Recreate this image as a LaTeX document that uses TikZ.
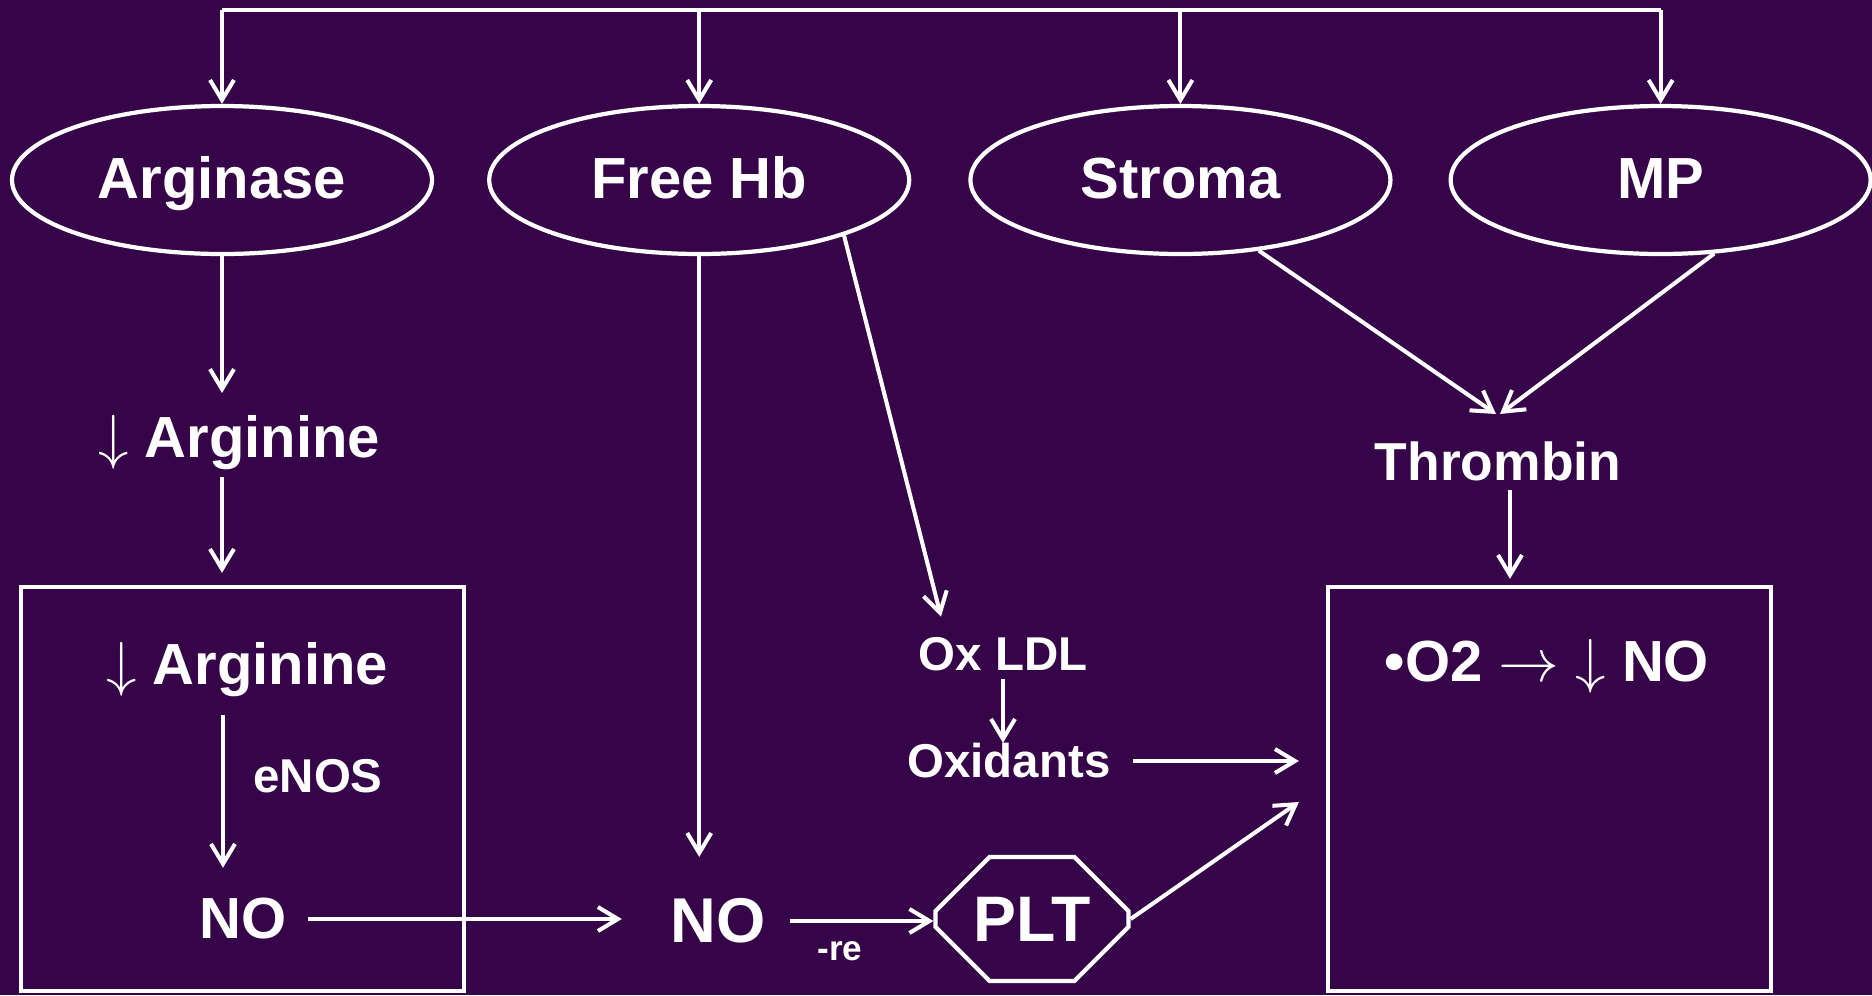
\documentclass[tikz,border=0pt]{standalone}
\usepackage{fontspec}
\setmainfont{Liberation Sans}
\usepackage{tikz}
\usetikzlibrary{arrows.meta, positioning, calc, shapes.geometric, shapes.misc}
\definecolor{bgpurple}{RGB}{54,4,72}

\begin{document}
\begin{tikzpicture}[
    ell/.style={ellipse, draw=white, line width=1.2pt, minimum width=4.2cm, minimum height=1.48cm, inner sep=0pt, text height=0.36cm, text depth=0pt, text=white, font=\bfseries\fontsize{16.5}{20}\selectfont},
    bx/.style={rectangle, draw=white, line width=1.2pt, minimum width=4.43cm, minimum height=4.04cm},
    txt/.style={inner sep=0pt, text=white, font=\bfseries\fontsize{16.5}{20}\selectfont},
    sm/.style={inner sep=0pt, text=white, font=\bfseries\fontsize{13.5}{16}\selectfont},
    oct/.style={chamfered rectangle, chamfered rectangle xsep=0.26cm, chamfered rectangle ysep=0.32cm, draw=white, line width=1.2pt, minimum width=1.93cm, minimum height=1.24cm, inner sep=0pt, text=white, font=\bfseries\fontsize{18.3}{22}\selectfont},
    e/.style={-{Straight Barb[length=2mm, width=2.4mm]}, white, line width=1.15pt},
    ln/.style={white, line width=1.15pt},
    lab/.style={inner sep=0pt, text=white, font=\bfseries\fontsize{10}{12}\selectfont},
]
    \fill[bgpurple] (0,0) rectangle (18.72,-9.95);
    \useasboundingbox (0,0) rectangle (18.72,-9.95);
    \node[ell] (arg) at (2.22,-1.80) {Arginase};
    \node[ell, right=0.53cm of arg] (hb) {Free Hb};
    \node[ell, right=0.57cm of hb] (str) {Stroma};
    \node[ell, right=0.56cm of str] (mp) {MP};
    \node[txt] (argn) at (2.39,-4.43) {$\downarrow$ Arginine};
    \node[bx] (lbox) at (2.425,-7.89) {};
    \node[txt] (argn2) at (2.47,-6.70) {$\downarrow$ Arginine};
    \node[sm] (enos) at (3.18,-7.76) {eNOS};
    \node[txt] (no1) at (2.43,-9.19) {NO};
    \node[txt, font=\bfseries\fontsize{18}{22}\selectfont] (no2) at (7.18,-9.21) {NO};
    \node[sm] (ox) at (10.03,-6.54) {Ox LDL};
    \node[sm] (oxid) at (10.09,-7.61) {Oxidants};
    \node[oct] (plt) at (10.32,-9.19) {PLT};
    \node[lab] (re) at (8.40,-9.51) {-re};
    \node[txt, font=\bfseries\fontsize{15.2}{18}\selectfont] (thr) at (14.98,-4.61) {Thrombin};
    \node[bx] (rbox) at (15.495,-7.89) {};
    \node[txt] (o2) at (15.47,-6.66) {\textbullet O2 $\rightarrow$ $\downarrow$ NO};
    \coordinate (bus) at (0,-0.10);
    \draw[ln] (bus -| arg) -- (bus -| mp);
    \foreach \n in {arg, hb, str, mp}
        \draw[e] (bus -| \n) -- (\n.north);
    \draw[e, shorten >=2.2mm] (arg.south) -- (arg.south |- argn.north);
    \draw[e, shorten <=0.6mm, shorten >=1.2mm] (argn.south -| arg) -- (lbox.north -| arg);
    \draw[e, shorten <=1.7mm, shorten >=3mm] ([xshift=-2.4mm]argn2.south) -- ([xshift=-2.4mm]argn2.south |- no1.north);
    \draw[e, shorten <=2.1mm, shorten >=4.8mm] (no1.east) -- (no1.east -| no2.west);
    \draw[e, shorten <=2.4mm] (no2.east) -- (no2.east -| plt.west);
    \draw[e, shorten >=4.1mm] (hb.south) -- (hb.south |- no2.north);
    \draw[e] (hb.-21) -- ($(ox.north)+(-0.62,0.20)$);
    \draw[e, shorten <=0.7mm] (ox.south) -- (ox.south |- oxid.north);
    \draw[e, shorten <=2.2mm, shorten >=2.7mm] (oxid.east) -- (oxid.east -| rbox.west);
    \draw[e] (plt.east) -- ($(rbox.west)+(-0.27,-0.13)$);
    \draw[e] (str.-42) -- ($(thr.center)+(-0.02,0.47)$);
    \draw[e] (mp.-54) -- ($(thr.center)+(0.02,0.47)$);
    \draw[e, shorten <=0.9mm, shorten >=0.6mm] ([xshift=1.2mm]thr.south) -- ([xshift=1.2mm]thr.south |- rbox.north);
\end{tikzpicture}
\end{document}
